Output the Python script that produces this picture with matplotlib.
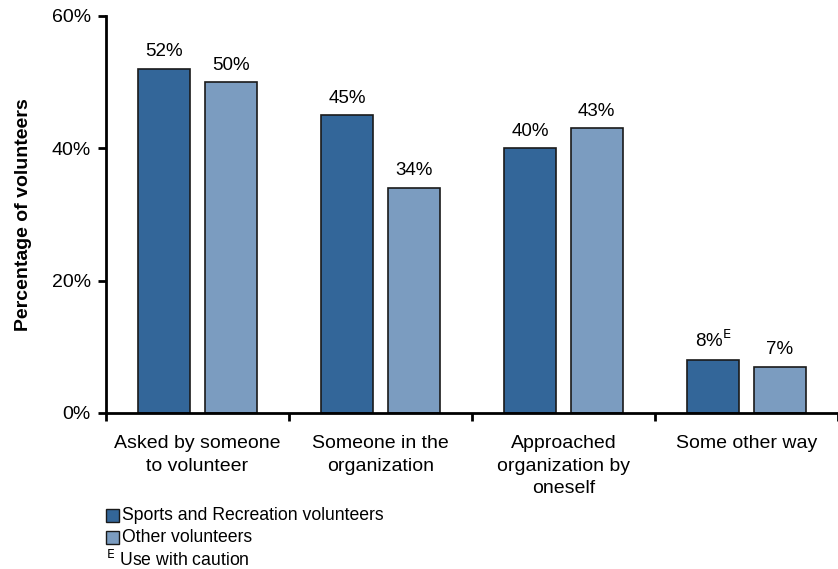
import numpy as np
import matplotlib
matplotlib.use('Agg')
import matplotlib.pyplot as plt
from matplotlib.patches import Rectangle

plt.rcParams['font.family'] = ['Liberation Sans', 'DejaVu Sans']

categorias = ['Asked by someone\nto volunteer', 'Someone in the\norganization',
              'Approached\norganization by\noneself', 'Some other way']
deportes = [52, 45, 40, 8]
otros = [50, 34, 43, 7]
etiquetas_deportes = ['52%', '45%', '40%', '8%$^{\\mathrm{E}}$']
etiquetas_otros = ['50%', '34%', '43%', '7%']
yticks = [0, 20, 40, 60]

color_osc = '#336699'
color_cla = '#7b9cc0'

fig = plt.figure(figsize=(8.38, 5.69), dpi=100)
ax = fig.add_axes([0.1265, 0.2742, 0.8735, 0.6977])

x = np.arange(len(categorias))
ancho = 0.281
desp = 0.182
ax.bar(x - desp, deportes, ancho, color=color_osc, edgecolor='#1a1a1a', linewidth=1.2)
ax.bar(x + desp, otros, ancho, color=color_cla, edgecolor='#1a1a1a', linewidth=1.2)

for xi, v, t in zip(x - desp, deportes, etiquetas_deportes):
    ax.text(xi, v + 1.3, t, ha='center', va='bottom', fontsize=13.5)
for xi, v, t in zip(x + desp, otros, etiquetas_otros):
    ax.text(xi, v + 1.3, t, ha='center', va='bottom', fontsize=13.5)

ax.set_xlim(-0.5, 3.457)
ax.set_ylim(0, 60)
ax.set_yticks(yticks)
ax.set_yticklabels([f'{v}%' for v in yticks], fontsize=14)
ax.set_xticks(np.arange(-0.5, 3.6, 1.0))
ax.set_xticklabels([])
ax.tick_params(axis='x', length=6, width=2, direction='out')
ax.tick_params(axis='y', length=6, width=2, direction='out', pad=5)
for i, c in enumerate(categorias):
    ax.text(i, -3.4, c, ha='center', va='top', fontsize=14, linespacing=1.4)

for s in ['top', 'right']:
    ax.spines[s].set_visible(False)
for s in ['left', 'bottom']:
    ax.spines[s].set_linewidth(2)

ax.set_ylabel('Percentage of volunteers', fontsize=14, fontweight='bold', labelpad=14)

# leyenda manual abajo a la izquierda
for yy, col, txt in [(0.094, color_osc, 'Sports and Recreation volunteers'),
                     (0.055, color_cla, 'Other volunteers')]:
    fig.patches.append(Rectangle((0.1265, yy - 0.0115), 0.0155, 0.023, transform=fig.transFigure,
                                 facecolor=col, edgecolor='#1a1a1a', linewidth=1))
    fig.text(0.1455, yy, txt, ha='left', va='center', fontsize=12.7)
fig.text(0.1265, 0.016, '$^{\\mathrm{E}}$ Use with caution', ha='left', va='center', fontsize=12.7)

fig.savefig('out.png', dpi=100)
